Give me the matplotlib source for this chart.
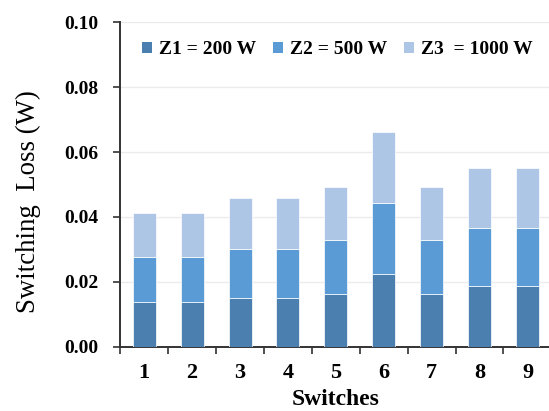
import matplotlib
matplotlib.use("Agg")
import matplotlib.pyplot as plt
from matplotlib.patches import Patch
import numpy as np

switches = ["1", "2", "3", "4", "5", "6", "7", "8", "9"]
z1 = [0.0138, 0.0138, 0.0151, 0.0151, 0.0163, 0.0225, 0.0163, 0.0188, 0.0188]
z2 = [0.0139, 0.0139, 0.0151, 0.0151, 0.0167, 0.0218, 0.0167, 0.0179, 0.0179]
z3 = [0.0134, 0.0134, 0.0155, 0.0155, 0.0161, 0.0219, 0.0161, 0.0184, 0.0184]
labels = ["Z1 = 200 W", "Z2 = 500 W", "Z3  = 1000 W"]
colors = ["#4a7fb0", "#5b9bd5", "#adc6e6"]
yticks = [0.00, 0.02, 0.04, 0.06, 0.08, 0.10]

plt.rcParams['font.family'] = ['Liberation Serif', 'DejaVu Serif']

fig = plt.figure(figsize=(5.49, 4.11), dpi=100)
L, R = 120.3 / 549, 551.4 / 549
B, T = (411 - 346.7) / 411, (411 - 22.3) / 411
ax = fig.add_axes([L, B, R - L, T - B])

x = np.arange(len(switches))
bottom = np.zeros(len(switches))
for vals, c, lab in zip([z1, z2, z3], colors, labels):
    ax.bar(x, vals, width=0.48, bottom=bottom, color=c, edgecolor='white',
           linewidth=0.5, label=lab, zorder=3)
    bottom = bottom + np.array(vals)

ax.set_xlim(-0.5, len(switches) - 0.5)
ax.set_ylim(0, 0.10)
ax.set_yticks(yticks)
ax.set_yticklabels([f"{v:.2f}" for v in yticks], fontweight='bold', fontsize=14)
ax.set_xticks(x)
ax.set_xticklabels(switches, fontweight='bold', fontsize=16)
ax.set_xticks(np.arange(-0.5, len(switches) + 0.5, 1), minor=True)
ax.tick_params(axis='x', which='major', length=0, pad=12)
ax.tick_params(axis='x', which='minor', length=5, width=1.2, color='#333333', direction='out')
ax.tick_params(axis='y', length=5, width=1.2, color='#333333', direction='out', pad=11)

ax.grid(axis='y', color='#ebebeb', linewidth=1.0, zorder=0)
ax.set_axisbelow(True)
for s in ['top', 'right']:
    ax.spines[s].set_visible(False)
for s in ['left', 'bottom']:
    ax.spines[s].set_color('#333333')
    ax.spines[s].set_linewidth(1.4)

ax.set_ylabel("Switching  Loss (W)", fontsize=19.3)
ax.yaxis.set_label_coords(-0.184, 0.446)
ax.set_xlabel("Switches", fontsize=17, fontweight='bold', labelpad=4)

handles = [Patch(facecolor=c, edgecolor='none') for c in colors]
fig.legend(handles, labels, loc='center left', bbox_to_anchor=(142 / 549, 1 - 50 / 411),
           ncol=3, frameon=False, prop={'weight': 'bold', 'size': 14},
           handlelength=0.5, handleheight=0.5, handletextpad=0.35,
           columnspacing=0.9, borderpad=0, borderaxespad=0)

fig.savefig("out.png", dpi=100)
